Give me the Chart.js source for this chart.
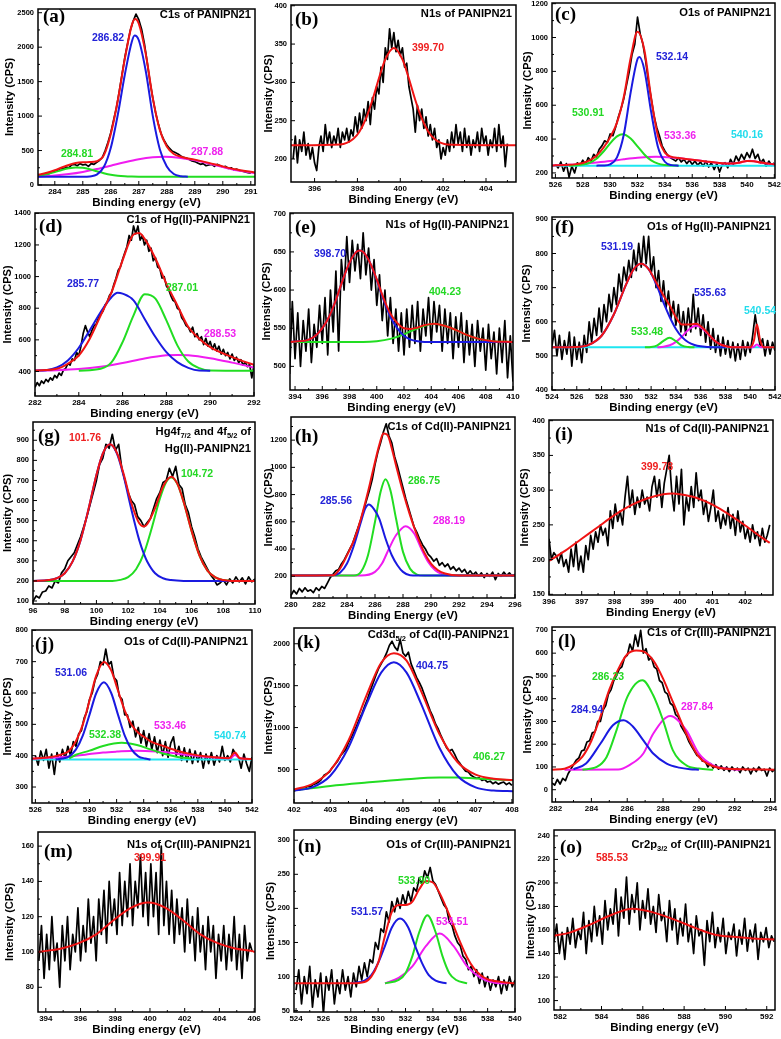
<!DOCTYPE html>
<html lang="en">
<head>
<meta charset="UTF-8">
<title>XPS spectra of PANIPN21 and metal-loaded PANIPN21</title>
<script src="https://cdn.jsdelivr.net/npm/chart.js"></script>
<style>
  body { margin: 0; background: #fff; }
  #sheet { position: relative; width: 781px; height: 1039px; overflow: hidden; background: #fff; }
  #sheet canvas { position: absolute; }
</style>
</head>
<body>
<div id="sheet"></div>
<script>
// ---------- data (binding energy in eV, intensity in CPS) ----------
// raw spectra: first energy, step, intensities
const aRawStart = 283.5, aRawStep = 0.1;
const aRaw = [140,150,170,165,190,200,215,240,230,260, 250,290,300,280,310,290,300,270,310,300,
  330,360,400,500,620,760,940,1120,1350,1600, 1850,2050,2250,2380,2480,2400,2260,2050,1780,1500,
  1260,1050,880,740,650,580,530,490,470,450, 420,400,390,370,350,340,320,300,310,280,
  290,300,270,300,280,260,270,240,250,220, 230,210,200,190,180,170];
const aRed = [[283.4,150],[283.5,156],[283.75,181],[284,214],[284.25,254],[284.5,291],[284.75,318],[285,329],[285.25,332],[285.5,345],[285.75,430],[286,740],[286.25,1230],[286.5,1830],[286.75,2320],[286.87,2410],[287,2340],[287.25,1900],[287.5,1260],[287.75,800],[288,560],[288.25,450],[288.5,410],[289,368],[289.5,321],[290,270],[290.5,224],[291.15,182]];
const aBlue = [[283.4,120],[285,120],[285.25,125],[285.5,150],[285.75,260],[286,540],[286.25,1020],[286.5,1600],[286.75,2080],[286.85,2170],[287,2100],[287.25,1650],[287.5,1000],[287.75,520],[288,270],[288.25,160],[288.5,128],[288.75,120]];
const aGreen = [[283.4,138],[283.5,142],[283.75,161],[284,187],[284.25,217],[284.5,242],[284.75,255],[285,249],[285.25,228],[285.5,199],[285.75,171],[286,148],[286.25,134],[286.5,126],[286.75,122],[287,120],[291.15,120]];
const aMag = [[283.4,122],[283.5,124],[284,137],[284.5,159],[285,190],[285.5,231],[286,280],[286.5,331],[287,374],[287.5,402],[287.9,410],[288.5,393],[289,358],[289.5,311],[290,260],[290.5,214],[291.15,174]];

const bRawStart = 395.0, bRawStep = 0.1;
const bRaw = [200,230,195,225,210,235,205,220,200,215, 195,185,215,230,210,245,220,235,215,230,
  220,240,215,235,225,240,222,238,230,255, 235,260,240,265,250,275,245,280,265,295,
  285,320,300,345,330,370,345,365,340,355, 335,345,320,325,295,280,265,235,270,250,
  265,240,255,230,245,225,240,215,225,200, 215,205,225,210,235,215,245,220,235,210,
  240,215,230,205,225,215,235,210,240,220, 230,205,225,215,240,210,245,215,230,190, 220];
const bRed = [[394.9,218],[397.2,219],[397.5,221],[397.8,226],[398.1,236],[398.4,253],[398.7,277],[399,305],[399.3,330],[399.7,345],[400.1,330],[400.4,305],[400.7,277],[401,253],[401.3,236],[401.6,226],[401.9,221],[402.2,219],[405.4,218]];

const cRawStart = 526.0, cRawStep = 0.2;
const cRaw = [250,230,265,210,255,175,240,200,260,245, 275,250,290,270,310,295,340,360,390,380,
  430,420,470,530,580,640,720,800,900,960, 1120,1020,960,860,740,640,540,470,420,360,
  330,305,290,280,270,290,265,280,255,275, 250,270,245,265,240,270,235,260,220,255,
  205,250,260,230,280,250,300,270,310,280, 320,290,340,285,310,260,280,240,270,245, 260];
const cRed = [[525.75,244],[526,245],[527,248],[527.5,252],[528,259],[528.5,274],[529,302],[529.5,348],[530,410],[530.5,497],[531,650],[531.5,879],[532,1034],[532.5,926],[533,642],[533.5,416],[534,320],[534.5,295],[535,288],[536,278],[537,268],[538,259],[539,256],[539.5,262],[540,270],[540.5,269],[541,261],[542.05,250]];
const cBlue = [[529,243],[529.5,244],[530,251],[530.5,292],[531,427],[531.5,676],[532,873],[532.14,885],[532.5,810],[533,559],[533.5,352],[534,266],[534.5,246],[535,243]];
const cGreen = [[527,243],[527.5,245],[528,249],[528.5,260],[529,284],[529.5,325],[530,375],[530.5,416],[530.91,428],[531.5,403],[532,357],[532.5,309],[533,274],[533.5,255],[534,247],[534.5,244],[535,243]];
const cMag = [[525.75,244],[526,245],[527,248],[528,253],[529,261],[530,270],[531,281],[532,290],[533.36,295],[534.5,291],[535.5,283],[536.5,273],[537.5,263],[538.5,255],[539.3,258],[539.8,268],[540.2,272],[540.6,268],[541.2,258],[542.05,250]];
const cCyan = [[525.75,243],[542.05,243]];

const dRawStart = 282.0, dRawStep = 0.1;
const dRaw = [300,330,310,340,325,350,335,360,345,375, 360,390,375,410,420,450,440,480,470,520,
  500,560,640,690,650,620,660,690,700,740, 760,780,820,840,880,900,950,990,1040,1060,
  1110,1150,1190,1260,1230,1320,1270,1320,1230,1260, 1200,1230,1160,1180,1100,1120,1060,1050,990,1000,
  940,920,880,850,840,800,790,740,720,690, 680,650,680,620,640,600,620,570,610,560,
  590,540,575,530,560,510,540,500,520,480, 510,470,490,455,475,440,460,430,445,360, 440];
const dRed = [[282,406],[283,417],[283.5,449],[284,501],[284.5,607],[285,755],[285.5,903],[286,1103],[286.5,1266],[286.75,1275],[287,1240],[287.5,1114],[288,955],[288.5,818],[289,681],[289.5,607],[290,554],[291,491],[292,442]];
const dBlue = [[282,405],[282.5,408],[283,425],[283.5,470],[284,550],[284.5,660],[285,776],[285.5,871],[285.77,898],[286,892],[286.5,850],[287,734],[287.5,618],[288,522],[288.5,459],[289,423],[289.5,406],[290,405]];
const dGreen = [[284,405],[285,417],[285.5,459],[286,586],[286.5,755],[287.01,888],[287.5,860],[288,723],[288.5,565],[289,463],[289.5,421],[290,406],[291,405],[292,405]];
const dMag = [[282,406],[283,408],[284,415],[285,430],[286,454],[287,482],[288,502],[288.53,505],[289,503],[290,484],[291,456],[292,425]];

const eRawStart = 393.6, eRawStep = 0.2;
const eRaw = [490,585,510,570,500,560,520,575,505,555, 525,580,530,590,515,600,545,625,520,640,
  600,670,610,665,625,660,615,675,620,655, 600,640,580,620,560,600,540,590,530,575,
  520,570,515,575,525,580,530,585,520,575, 540,590,530,585,545,580,520,575,530,570,
  510,565,525,570,505,560,515,555,500,560, 520,550,495,555,510,545,490,550,505,560, 485,540,480];
const eRed = [[393.6,532],[395,535],[395.5,540],[396,550],[396.5,565],[397,587],[397.5,613],[398,636],[398.5,650],[398.75,652],[399,650],[399.5,636],[400,614],[400.5,589],[401,569],[401.5,557],[402,550],[402.5,549],[403,551],[403.5,554],[404.23,556],[405.5,550],[406.5,542],[407.5,536],[408.5,533],[410,532]];
const eBlue = [[393.6,532],[395,535],[395.5,540],[396,550],[396.5,565],[397,587],[397.5,613],[398,636],[398.5,650],[398.75,652],[399,650],[399.5,636],[400,613],[400.5,587],[401,565],[401.5,550],[402,540],[402.5,535],[403,533],[403.5,532],[410,532]];
const eGreen = [[393.6,532],[399,532],[400,533],[401,536],[402,542],[403,550],[404.23,556],[405.5,550],[406.5,542],[407.5,536],[408.5,533],[410,532]];

const fRawStart = 524.0, fRawStep = 0.2;
const fRaw = [530,575,500,560,490,545,505,570,470,555, 490,540,480,560,510,600,540,610,560,640,
  570,650,600,680,630,700,650,740,690,760, 720,780,730,810,750,830,760,850,770,850,
  740,790,700,750,660,720,640,690,610,660, 590,650,570,630,560,640,570,680,580,640,
  560,620,540,600,520,580,510,560,500,555, 505,545,495,540,485,535,490,545,500,540,
  510,560,620,570,530,550,500,545,505,540, 515];
const fRed = [[524,525],[526,526],[527,533],[528,559],[529,622],[530,711],[530.6,754],[531.2,770],[531.8,754],[532.4,716],[533,677],[533.5,648],[534,613],[534.5,592],[535,592],[535.63,594],[536.2,581],[536.7,561],[537.2,542],[537.7,532],[538.2,527],[538.7,525],[540,525],[540.3,545],[540.54,592],[540.8,545],[541.1,525],[542,525]];
const fBlue = [[524,525],[526,526],[527,533],[528,559],[529,622],[530,711],[530.6,754],[531.2,770],[531.8,754],[532.4,711],[533,656],[533.5,614],[534,579],[534.5,555],[535,540],[535.5,532],[536,528],[537,525],[538,525]];
const fGreen = [[531.5,525],[532,526],[532.5,531],[533,544],[533.48,553],[534,543],[534.5,530],[535,526],[535.5,525]];
const fMag = [[532.5,525],[533,527],[533.5,531],[534,541],[534.5,557],[535,576],[535.63,588],[536.2,578],[536.7,560],[537.2,542],[537.7,532],[538.2,527],[538.7,525],[540.2,525],[540.54,533],[540.9,525],[541.5,525]];
const fCyan = [[524,525],[542,525]];

const gRawStart = 96.0, gRawStep = 0.2;
const gRaw = [100,125,115,145,150,175,165,200,190,240, 260,300,320,340,380,420,470,520,580,640,
  700,780,810,880,860,930,850,880,760,700, 640,600,580,520,500,470,490,510,560,610,
  640,690,700,760,720,770,680,660,580,540, 470,420,360,320,290,260,230,210,180,190,
  205,180,210,190,220,195,215,185,220,195, 210];
const gRed = [[96,200],[97,204],[97.5,213],[98,238],[98.5,297],[99,403],[99.5,557],[100,727],[100.4,833],[100.85,880],[101.3,836],[101.7,737],[102.2,588],[102.7,487],[103,471],[103.2,482],[103.7,563],[104.2,670],[104.72,719],[105.1,684],[105.5,593],[106,449],[106.5,326],[107,251],[107.5,217],[108,204],[108.5,200],[110,200]];
const gBlue = [[96,200],[97,204],[97.5,213],[98,238],[98.5,297],[99,403],[99.5,557],[100,727],[100.4,833],[100.85,880],[101.3,833],[101.7,727],[102.2,557],[102.7,403],[103,333],[103.2,297],[103.7,238],[104.2,213],[104.7,204],[105.5,200],[110,200]];
const gGreen = [[96,200],[101,200],[101.5,205],[102,219],[102.5,258],[103,338],[103.5,466],[104,609],[104.4,692],[104.72,715],[105.1,683],[105.5,593],[106,449],[106.5,326],[107,251],[107.5,217],[108,204],[108.5,200],[110,200]];

const hRawStart = 280.0, hRawStep = 0.2;
const hRaw = [60,95,70,110,85,115,90,100,80,115, 95,125,110,150,190,215,240,250,290,320,
  360,400,440,500,560,620,690,760,830,910, 1020,1110,1180,1260,1320,1230,1180,1080,1010,930,
  850,770,700,630,560,520,470,430,400,360, 340,310,330,280,300,270,290,250,270,240,
  260,230,250,215,240,210,230,200,225,190, 220,200,230,175,220,200,230,205,225,200, 215];
const hRed = [[280,205],[283,207],[283.5,256],[284,354],[284.5,465],[285,624],[285.5,820],[286,1040],[286.3,1163],[286.6,1249],[286.9,1237],[287.2,1139],[287.5,1016],[288,820],[288.5,649],[289,501],[289.5,379],[290,293],[290.5,244],[291,220],[292,205],[296,205]];
const hBlue = [[280,205],[283,207],[283.5,225],[284,293],[284.5,428],[285,600],[285.3,697],[285.56,727],[285.9,697],[286.3,624],[286.75,477],[287.2,354],[287.6,281],[288,232],[288.5,207],[289,205],[296,205]];
const hGreen = [[280,205],[284.5,205],[285,232],[285.5,354],[286,600],[286.4,820],[286.75,913],[287.1,832],[287.5,624],[288,379],[288.5,256],[289,212],[289.5,205],[296,205]];
const hMag = [[280,205],[285,205],[286,232],[286.5,293],[287,403],[287.5,501],[288.19,568],[288.8,514],[289.3,403],[289.8,305],[290.3,244],[290.8,215],[291.5,205],[296,205]];

const iRawStart = 396.0, iRawStep = 0.075;
const iRaw = [230,200,210,205,195,210,190,200,182,215, 190,225,185,205,182,220,200,235,215,240,
  225,250,235,245,220,270,245,280,255,270, 250,290,320,275,300,265,290,275,300,280,
  290,270,305,320,290,315,275,310,330,350, 300,270,320,280,330,250,290,270,305,275,
  325,285,300,265,285,255,275,300,255,270, 245,265,250,275,245,265,235,270,240,255,
  230,245,225,250,230,240,220,245,225,235, 250];
const iRed = [[396,198],[396.5,213],[397,230],[397.5,247],[398,264],[398.5,278],[399,288],[399.5,294],[399.78,295],[400,294],[400.5,289],[401,279],[401.5,265],[402,249],[402.5,232],[402.75,224]];

const jRawStart = 526.0, jRawStep = 0.2;
const jRaw = [400,370,415,385,420,360,405,340,410,380, 420,390,430,400,445,430,470,480,520,540,
  580,600,640,660,700,690,740,690,700,650, 640,590,580,530,530,490,510,460,490,440,
  480,430,470,420,460,410,450,400,445,395, 440,460,400,430,385,425,380,420,375,415,
  380,410,360,405,375,410,370,400,380,430, 385,400,380,420,405,395,360,405,375,350, 395];
const jRed = [[525.75,391],[527,395],[528,405],[528.5,416],[529,447],[529.5,499],[530,576],[530.5,656],[531.06,699],[531.6,672],[532.1,608],[532.6,544],[533.1,499],[533.6,473],[534.1,458],[534.5,446],[535.5,430],[536.5,415],[537.5,405],[538.5,398],[539.5,394],[540.3,392],[540.74,410],[541.1,392],[542,389]];
const jBlue = [[527.5,388],[528,391],[528.5,398],[529,420],[529.5,464],[530,531],[530.5,600],[531.06,634],[531.6,600],[532.1,531],[532.6,464],[533.1,420],[533.6,398],[534.1,391],[534.5,388]];
const jGreen = [[528.5,391],[529,403],[530,416],[531,431],[532.38,441],[533.5,434],[534.5,420],[535.5,406],[536.5,396],[537.5,391]];
const jMag = [[525.75,390],[527,393],[528,396],[529,400],[530,405],[531,410],[532,413],[533.46,416],[535,413],[536,409],[537,404],[538,399],[539,395],[540,392],[540.4,392],[540.74,402],[541.1,392],[542,389]];
const jCyan = [[525.75,388],[542,388]];

const kRawStart = 402.0, kRawStep = 0.075;
const kRaw = [240,265,255,280,270,300,290,320,330,350, 380,430,450,470,520,560,600,660,700,740,
  820,880,950,1020,1100,1170,1260,1340,1440,1530, 1620,1700,1760,1820,1890,1980,2030,1960,1920,2050,
  1890,1850,1900,1760,1680,1600,1540,1470,1380,1290, 1200,1130,1040,980,900,830,760,720,740,680,
  610,570,520,480,470,430,410,395,400,370, 380,350,360,330,350,325,340,350,320,340, 310];
const kRed = [[402,261],[402.5,326],[403,489],[403.5,846],[404,1387],[404.4,1773],[404.75,1888],[405.1,1798],[405.5,1435],[406,926],[406.5,589],[407,438],[407.5,390],[408.03,373]];
const kBlue = [[402,248],[402.5,286],[403,425],[403.5,762],[404,1283],[404.4,1655],[404.75,1780],[405.1,1655],[405.5,1283],[406,762],[406.5,425],[407,286],[407.5,248],[408.03,241]];
const kGreen = [[402,253],[403,304],[404,344],[405,380],[406,404],[406.5,404],[407,392],[408.03,372]];

const lRawStart = 281.8, lRawStep = 0.15;
const lRaw = [30,20,45,25,50,40,70,90, 110,130,140,170,175,210,215,250,255,300,
  300,350,370,420,440,480,500,530,540,580, 590,640,610,680,630,700,600,620,570,580,
  540,530,480,470,430,420,380,370,330,320, 280,260,240,210,190,170,150,150,125,125,
  100,115,95,110,90,105,85,100,80,100, 85,95,75,100,85,95,70,95,80,100, 85,90,60,95,80,90];
const lRed = [[281.8,88],[282.5,92],[283,110],[283.5,145],[284,215],[284.5,320],[285,440],[285.5,530],[286,595],[286.5,612],[286.9,608],[287.45,568],[288,488],[288.5,395],[288.75,349],[289.3,246],[290,144],[290.8,103],[291.5,92],[294.25,88]];
const lBlue = [[283,90],[283.7,115],[284.5,202],[285.2,283],[285.8,305],[286.3,279],[286.9,217],[287.45,159],[288.2,115],[288.9,97],[289.5,90],[290,88]];
const lGreen = [[283.5,88],[284.3,100],[284.85,144],[285.4,261],[286,407],[286.85,481],[287.45,415],[288,305],[288.55,173],[289.3,107],[290,93],[290.8,88]];
const lMag = [[282.5,88],[285.5,89],[286.1,107],[286.9,159],[287.45,246],[288.4,324],[289.3,261],[290,159],[290.8,107],[291.5,93],[292.3,88]];

const mRawStart = 393.6, mRawStep = 0.15;
const mRaw = [95,115,85,110,90,120,95,105,80,115, 95,120,90,110,100,125,95,115,100,130,
  105,120,95,130,110,135,105,140,115,130, 110,145,115,140,120,150,115,140,125,155,
  120,145,115,150,120,145,110,160,115,140, 110,135,105,130,110,125,100,130,105,120,
  95,125,100,115,90,120,100,115,85,110, 95,115,90,110,95,120,90,110,85,115, 95,105,100];
const mRed = [[393.55,100],[393.9,100.5],[394.9,102],[395.9,105],[396.9,110],[397.9,118],[398.9,125],[399.9,128],[400.9,125],[401.9,118],[402.9,110],[403.9,105],[404.9,102],[405.9,100.5],[406.05,100]];

const nRawStart = 524.0, nRawStep = 0.2;
const nRaw = [80,110,60,100,75,115,55,95,70,105, 45,100,80,110,60,95,75,110,80,100,
  70,105,85,115,95,120,100,125,120,150, 140,170,165,195,180,210,195,215,200,220,
  205,225,210,230,225,245,235,255,245,260, 240,235,225,215,205,200,180,175,160,150,
  145,130,125,110,115,100,110,90,105,85, 100,80,95,85,100,75,95,80,100,85, 95];
const nRed = [[523.85,90],[528,90],[529,92],[529.5,100],[530,120],[530.5,160],[531,195],[531.5,205],[532,205],[532.5,210],[533,228],[533.5,240],[534,238],[534.5,222],[535,200],[535.5,175],[536,150],[536.5,128],[537,112],[537.5,102],[538,96],[539,92],[540,90]];
const nBlue = [[528,90],[529,94],[529.5,102],[530,120],[530.5,145],[531,172],[531.6,185],[532.2,172],[532.7,145],[533.2,120],[533.7,102],[534.2,94],[535,90]];
const nGreen = [[530.5,90],[531.5,95],[532,105],[532.5,130],[533,165],[533.6,190],[534.2,165],[534.7,130],[535.2,105],[535.7,95],[536.5,90]];
const nMag = [[530.5,90],[531.5,98],[532.5,115],[533.5,145],[534.5,163],[535.5,145],[536.5,115],[537.5,98],[538.5,91],[539.5,90]];

const oRawStart = 581.7, oRawStep = 0.13;
const oRaw = [150,165,140,158,135,162,148,170,145,160, 152,175,140,168,150,180,155,172,148,185,
  160,178,165,195,155,188,170,205,165,190, 175,200,160,185,170,195,165,180,158,190,
  168,175,150,185,160,178,148,170,155,182, 150,165,140,172,155,160,130,168,150,175,
  145,162,150,170,140,158,152,165,138,160, 148,170,142,160,150,165,135,158,150,162, 145,155,150];
const oRed = [[581.7,155],[582.5,158],[583.5,165],[584.5,173],[585.5,178],[586.5,175],[587.5,169],[588.5,162],[589.5,156],[590.5,154],[591.5,152.5],[592.4,152]];

// tick labels
const aXT = [284,285,286,287,288,289,290,291], aYT = [0,500,1000,1500,2000,2500];
const bXT = [396,398,400,402,404], bYT = [200,250,300,350,400];
const cXT = [526,528,530,532,534,536,538,540,542], cYT = [200,400,600,800,1000,1200];
const dXT = [282,284,286,288,290,292], dYT = [400,600,800,1000,1200,1400];
const eXT = [394,396,398,400,402,404,406,408,410], eYT = [500,550,600,650,700];
const fXT = [524,526,528,530,532,534,536,538,540,542], fYT = [400,500,600,700,800,900];
const gXT = [96,98,100,102,104,106,108,110], gYT = [100,200,300,400,500,600,700,800,900];
const hXT = [280,282,284,286,288,290,292,294,296], hYT = [200,400,600,800,1000,1200];
const iXT = [396,397,398,399,400,401,402], iYT = [150,200,250,300,350,400];
const jXT = [526,528,530,532,534,536,538,540,542], jYT = [300,400,500,600,700,800];
const kXT = [402,403,404,405,406,407,408], kYT = [500,1000,1500,2000];
const lXT = [282,284,286,288,290,292,294], lYT = [0,100,200,300,400,500,600,700];
const mXT = [394,396,398,400,402,404,406], mYT = [80,100,120,140,160];
const nXT = [524,526,528,530,532,534,536,538,540], nYT = [50,100,150,200,250,300];
const oXT = [582,584,586,588,590,592], oYT = [100,120,140,160,180,200,220,240];

// ---------- layout and styling ----------
const LINE = { red: '#f01414', blue: '#1a1ae0', green: '#22dd22', mag: '#f01cf0', cyan: '#1ee6f0' };
const INK = { red: '#ee2020', blue: '#2323d8', green: '#24d824', mag: '#ee22ee', cyan: '#22dcec' };
const SANS = '"Liberation Sans", Arial, sans-serif';
const BE = 'Binding energy (eV)', BE2 = 'Binding Energy (eV)';
const PAD_TOP = 8, PAD_R = 12, X_H = 25;

// box = plot area [left, top, right, bottom] in page pixels, ytx = centre of the y title
const panels = [
  { id: 'a', box: [38, 9, 255, 185], ytx: 10, xr: [283.4, 291.15], yr: [0, 2554], xt: aXT, yt: aYT, xTitle: BE,
    raw: [aRawStart, aRawStep, aRaw], fits: [[aRed, 'red'], [aBlue, 'blue'], [aGreen, 'green'], [aMag, 'mag']],
    tag: [43, 17], title: [[[{ t: 'C1s of PANIPN21' }], 15]],
    notes: [['286.82', 108, 38, 'blue'], ['284.81', 77, 154, 'green'], ['287.88', 207, 152, 'mag']] },
  { id: 'b', box: [291, 5, 516, 182], ytx: 269, xr: [394.9, 405.4], yr: [170, 401], xt: bXT, yt: bYT, xTitle: BE2,
    raw: [bRawStart, bRawStep, bRaw], fits: [[bRed, 'red']],
    tag: [295, 20], title: [[[{ t: 'N1s of PANIPN21' }], 14]],
    notes: [['399.70', 428, 48, 'red']] },
  { id: 'c', box: [552, 3, 775, 178], ytx: 528, xr: [525.75, 542.05], yr: [170, 1204], xt: cXT, yt: cYT, xTitle: BE,
    raw: [cRawStart, cRawStep, cRaw], fits: [[cRed, 'red'], [cBlue, 'blue'], [cGreen, 'green'], [cMag, 'mag'], [cCyan, 'cyan']],
    tag: [555, 15], title: [[[{ t: 'O1s of PANIPN21' }], 13]],
    notes: [['532.14', 672, 57, 'blue'], ['530.91', 588, 113, 'green'], ['533.36', 680, 136, 'mag'], ['540.16', 747, 135, 'cyan']] },
  { id: 'd', box: [35, 213, 254, 396], ytx: 8, xr: [282, 292], yr: [245, 1402], xt: dXT, yt: dYT, xTitle: BE,
    raw: [dRawStart, dRawStep, dRaw], fits: [[dRed, 'red'], [dBlue, 'blue'], [dGreen, 'green'], [dMag, 'mag']],
    tag: [39, 227], title: [[[{ t: 'C1s of Hg(II)-PANIPN21' }], 220]],
    notes: [['285.77', 83, 284, 'blue'], ['287.01', 182, 288, 'green'], ['288.53', 220, 334, 'mag']] },
  { id: 'e', box: [290, 213, 513, 390], ytx: 267, xr: [393.63, 410], yr: [469, 701], xt: eXT, yt: eYT, xTitle: BE,
    raw: [eRawStart, eRawStep, eRaw], fits: [[eRed, 'red'], [eBlue, 'blue'], [eGreen, 'green']],
    tag: [295, 228], title: [[[{ t: 'N1s of Hg(II)-PANIPN21' }], 225]],
    notes: [['398.70', 330, 254, 'blue'], ['404.23', 445, 292, 'green']] },
  { id: 'f', box: [552, 217, 775, 390], ytx: 527, xr: [524, 542], yr: [400, 907], xt: fXT, yt: fYT, xTitle: BE,
    raw: [fRawStart, fRawStep, fRaw], fits: [[fRed, 'red'], [fBlue, 'blue'], [fGreen, 'green'], [fMag, 'mag'], [fCyan, 'cyan']],
    tag: [555, 228], title: [[[{ t: 'O1s of Hg(II)-PANIPN21' }], 227]],
    notes: [['531.19', 617, 247, 'blue'], ['535.63', 710, 293, 'blue'], ['533.48', 647, 332, 'green'], ['540.54', 760, 311, 'cyan']] },
  { id: 'g', box: [33, 422, 255, 604], ytx: 8, xr: [96, 110], yr: [85, 991], xt: gXT, yt: gYT, xTitle: BE,
    raw: [gRawStart, gRawStep, gRaw], fits: [[gRed, 'red'], [gBlue, 'blue'], [gGreen, 'green']],
    tag: [38, 437],
    title: [[[{ t: 'Hg4f' }, { t: '7/2', sub: true }, { t: ' and 4f' }, { t: '5/2', sub: true }, { t: ' of' }], 432],
            [[{ t: 'Hg(II)-PANIPN21' }], 449]],
    notes: [['101.76', 85, 438, 'red'], ['104.72', 197, 474, 'green']] },
  { id: 'h', box: [291, 417, 515, 598], ytx: 269, xr: [280, 296], yr: [40, 1370], xt: hXT, yt: hYT, xTitle: BE2,
    raw: [hRawStart, hRawStep, hRaw], fits: [[hRed, 'red'], [hBlue, 'blue'], [hGreen, 'green'], [hMag, 'mag']],
    tag: [295, 437], title: [[[{ t: 'C1s of Cd(II)-PANIPN21' }], 427]],
    notes: [['285.56', 336, 501, 'blue'], ['286.75', 424, 481, 'green'], ['288.19', 449, 521, 'mag']] },
  { id: 'i', box: [549, 420, 773, 595], ytx: 525, xr: [396, 402.85], yr: [149, 401], xt: iXT, yt: iYT, xTitle: BE2,
    raw: [iRawStart, iRawStep, iRaw], fits: [[iRed, 'red']],
    tag: [555, 435], title: [[[{ t: 'N1s of Cd(II)-PANIPN21' }], 429]],
    notes: [['399.78', 657, 467, 'red']] },
  { id: 'j', box: [32, 630, 252, 803], ytx: 8, xr: [525.75, 542], yr: [249, 801], xt: jXT, yt: jYT, xTitle: BE,
    raw: [jRawStart, jRawStep, jRaw], fits: [[jRed, 'red'], [jBlue, 'blue'], [jGreen, 'green'], [jMag, 'mag'], [jCyan, 'cyan']],
    tag: [35, 645], title: [[[{ t: 'O1s of Cd(II)-PANIPN21' }], 642]],
    notes: [['531.06', 71, 673, 'blue'], ['532.38', 105, 735, 'green'], ['533.46', 170, 726, 'mag'], ['540.74', 230, 736, 'cyan']] },
  { id: 'k', box: [294, 628, 513, 803], ytx: 269, xr: [402, 408.03], yr: [100, 2188], xt: kXT, yt: kYT, xTitle: BE,
    raw: [kRawStart, kRawStep, kRaw], fits: [[kRed, 'red'], [kBlue, 'blue'], [kGreen, 'green']],
    tag: [297, 643], title: [[[{ t: 'Cd3d' }, { t: '5/2', sub: true }, { t: ' of Cd(II)-PANIPN21' }], 635]],
    notes: [['404.75', 432, 666, 'blue'], ['406.27', 489, 757, 'green']] },
  { id: 'l', box: [552, 627, 775, 802], ytx: 528, xr: [281.8, 294.25], yr: [-54, 715], xt: lXT, yt: lYT, xTitle: BE,
    raw: [lRawStart, lRawStep, lRaw], fits: [[lRed, 'red'], [lBlue, 'blue'], [lGreen, 'green'], [lMag, 'mag']],
    tag: [558, 642], title: [[[{ t: 'C1s of Cr(III)-PANIPN21' }], 633]],
    notes: [['286.23', 608, 677, 'green'], ['284.94', 587, 710, 'blue'], ['287.84', 697, 707, 'mag']] },
  { id: 'm', box: [38, 832, 255, 1012], ytx: 10, xr: [393.55, 406.05], yr: [66, 168], xt: mXT, yt: mYT, xTitle: BE,
    raw: [mRawStart, mRawStep, mRaw], fits: [[mRed, 'red']],
    tag: [44, 852], title: [[[{ t: 'N1s of Cr(III)-PANIPN21' }], 845]],
    notes: [['399.91', 150, 858, 'red']] },
  { id: 'n', box: [294, 830, 515, 1012], ytx: 271, xr: [523.85, 540], yr: [48, 315], xt: nXT, yt: nYT, xTitle: BE,
    raw: [nRawStart, nRawStep, nRaw], fits: [[nRed, 'red'], [nBlue, 'blue'], [nGreen, 'green'], [nMag, 'mag']],
    tag: [298, 847], title: [[[{ t: 'O1s of Cr(III)-PANIPN21' }], 845]],
    notes: [['531.57', 367, 912, 'blue'], ['533.90', 414, 881, 'green'], ['534.51', 452, 922, 'mag']] },
  { id: 'o', box: [554, 830, 775, 1010], ytx: 531, xr: [581.7, 592.4], yr: [92, 245], xt: oXT, yt: oYT, xTitle: BE,
    raw: [oRawStart, oRawStep, oRaw], fits: [[oRed, 'red']],
    tag: [560, 848], title: [[[{ t: 'Cr2p' }, { t: '3/2', sub: true }, { t: ' of Cr(III)-PANIPN21' }], 845]],
    notes: [['585.53', 612, 858, 'red']] }
];

function rawPoints(start, step, ys) {
  return ys.map((y, i) => ({ x: +(start + i * step).toFixed(4), y }));
}
function pairPoints(arr) {
  return arr.map(([x, y]) => ({ x, y }));
}

// frame, inward ticks, panel letter, title and peak labels
function decor(p, cl, ct) {
  return {
    id: 'decor' + p.id,
    afterDraw(chart) {
      const { ctx, chartArea: a, scales: { x, y } } = chart;
      ctx.save();
      ctx.strokeStyle = '#000';
      ctx.lineWidth = 1;
      ctx.beginPath();
      const mark = (scale, vals, horiz) => {
        const st = vals[1] - vals[0];
        vals.forEach(v => {
          [[v, 4], [v + st / 2, 2]].forEach(([w, len]) => {
            if (w < scale.min || w > scale.max) return;
            const px = scale.getPixelForValue(w);
            if (horiz) { ctx.moveTo(px, a.bottom); ctx.lineTo(px, a.bottom - len); }
            else { ctx.moveTo(a.left, px); ctx.lineTo(a.left + len, px); }
          });
        });
      };
      mark(x, p.xt, true);
      mark(y, p.yt, false);
      ctx.stroke();
      ctx.lineWidth = 1.5;
      ctx.strokeRect(a.left, a.top, a.right - a.left, a.bottom - a.top);

      ctx.fillStyle = '#000';
      ctx.textBaseline = 'middle';
      ctx.textAlign = 'left';
      ctx.font = 'bold 19px "Liberation Serif", "Times New Roman", serif';
      ctx.fillText('(' + p.id + ')', p.tag[0] - cl, p.tag[1] - ct);

      const big = 'bold 11.2px ' + SANS, small = 'bold 7.5px ' + SANS;
      p.title.forEach(([segs, yy]) => {
        let total = 0;
        segs.forEach(s => { ctx.font = s.sub ? small : big; total += ctx.measureText(s.t).width; });
        let xx = p.box[2] - 4 - cl - total;
        segs.forEach(s => {
          ctx.font = s.sub ? small : big;
          ctx.fillText(s.t, xx, yy - ct + (s.sub ? 3.5 : 0));
          xx += ctx.measureText(s.t).width;
        });
      });

      ctx.textAlign = 'center';
      ctx.font = 'bold 10.5px ' + SANS;
      p.notes.forEach(([txt, nx, ny, c]) => {
        ctx.fillStyle = INK[c];
        ctx.fillText(txt, nx - cl, ny - ct);
      });
      ctx.restore();
    }
  };
}

function drawPanel(p) {
  const [L, T, R, B] = p.box;
  const cl = Math.round(p.ytx - 6.6);
  const ct = T - PAD_TOP;
  const cv = document.createElement('canvas');
  cv.width = R + PAD_R - cl;
  cv.height = PAD_TOP + (B - T) + X_H;
  cv.style.left = cl + 'px';
  cv.style.top = ct + 'px';
  document.getElementById('sheet').appendChild(cv);

  const datasets = p.fits.map(([arr, c]) => ({
    data: pairPoints(arr), borderColor: LINE[c], borderWidth: 2,
    cubicInterpolationMode: 'monotone', pointRadius: 0, fill: false
  }));
  datasets.push({
    data: rawPoints(p.raw[0], p.raw[1], p.raw[2]), borderColor: '#000', borderWidth: 1.7,
    borderJoinStyle: 'round', tension: 0, pointRadius: 0, fill: false
  });

  const tickFont = size => ({ family: SANS, size: size, weight: 'bold' });
  const noGrid = { display: false, drawTicks: false, tickLength: 0 };
  new Chart(cv, {
    type: 'line',
    data: { datasets },
    options: {
      responsive: false,
      animation: false,
      devicePixelRatio: 1,
      layout: { padding: { top: PAD_TOP, right: PAD_R, left: 0, bottom: 0 } },
      plugins: { legend: { display: false }, tooltip: { enabled: false } },
      elements: { point: { radius: 0 } },
      scales: {
        x: {
          type: 'linear', min: p.xr[0], max: p.xr[1],
          afterBuildTicks: s => { s.ticks = p.xt.map(v => ({ value: v })); },
          afterFit: s => { s.height = X_H; s.paddingLeft = 0; s.paddingRight = 0; },
          ticks: { autoSkip: false, maxRotation: 0, padding: 2, color: '#000', font: tickFont(8), callback: v => String(v) },
          grid: noGrid, border: { display: false },
          title: { display: true, text: p.xTitle, color: '#000', padding: 0, font: { family: SANS, size: 11.5, weight: 'bold' } }
        },
        y: {
          type: 'linear', min: p.yr[0], max: p.yr[1],
          afterBuildTicks: s => { s.ticks = p.yt.map(v => ({ value: v })); },
          afterFit: s => { s.width = L - cl; s.paddingTop = 0; s.paddingBottom = 0; },
          ticks: { autoSkip: false, padding: 4, color: '#000', font: tickFont(7.5), callback: v => String(v) },
          grid: noGrid, border: { display: false },
          title: { display: true, text: 'Intensity (CPS)', color: '#000', padding: 0, font: { family: SANS, size: 11, weight: 'bold' } }
        }
      }
    },
    plugins: [decor(p, cl, ct)]
  });
}

panels.forEach(drawPanel);
</script>
</body>
</html>
